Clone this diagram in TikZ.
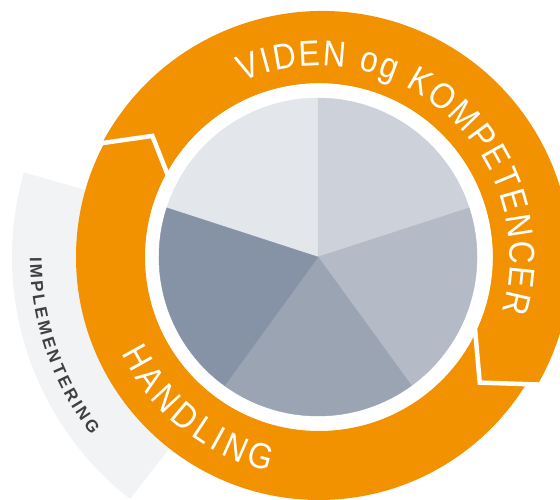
\documentclass[tikz,border=0pt]{standalone}
\usepackage{fontspec}
\setmainfont{Liberation Sans}
\newfontfamily\ringfam[FakeStretch=0.88]{Liberation Sans}
\usetikzlibrary{calc,decorations.text}
\definecolor{ringorange}{HTML}{F39200}
\definecolor{bandgrey}{HTML}{F2F3F5}
\definecolor{pieA}{HTML}{E3E6EB}
\definecolor{pieB}{HTML}{CDD2DA}
\definecolor{pieC}{HTML}{B4BAC6}
\definecolor{pieD}{HTML}{9AA4B3}
\definecolor{pieE}{HTML}{8693A6}
\definecolor{impltext}{HTML}{404040}
\newcommand\ringtxt{\ringfam\fontsize{36}{36}\selectfont}
\newcommand\impltxt{\bfseries\fontsize{17}{17}\selectfont}
\begin{document}
\begin{tikzpicture}[x=1pt,y=1pt,
  sep/.style={draw=white,line width=4.5pt},
  slice/.style={fill=#1,draw=#1,line width=0.4pt}]
\useasboundingbox (0,0) rectangle (560,499);
\clip (0,0) rectangle (560,499);
\fill[white] (0,0) rectangle (560,499);
\coordinate (C) at (319,242);
\coordinate (Cv) at (322,239);
\coordinate (P) at (318,242);
% grey band
\fill[bandgrey] ($(C)+(164:240pt)$) arc[start angle=164,end angle=232,radius=240pt]
  -- ($(C)+(232:307pt)$) arc[start angle=232,end angle=164,radius=307pt] -- cycle;
\path[decorate,decoration={text along path,text={|\impltxt|IMPLEMENTERING},
  text color=impltext,text align={fit to path}}]
  ($(C)+(180:289pt)$) arc[start angle=180,end angle=218,radius=289pt];
% orange ring
\fill[ringorange,even odd rule] (C) circle[radius=243pt] (C) circle[radius=174pt];
\coordinate (ULin) at ($(C)+(151:174pt)$);
\coordinate (ULtip) at ($(C)+(144:206pt)$);
\coordinate (ULout) at ($(Cv)+(152:249pt)$);
\coordinate (LRin) at ($(C)+(-26:174pt)$);
\coordinate (LRtip) at ($(C)+(-38:204pt)$);
\coordinate (LRout) at ($(Cv)+(-30:249pt)$);
\fill[ringorange] (ULout) arc[start angle=152,end angle=-30,radius=249pt]
  -- (LRtip) -- (LRin) arc[start angle=-26,end angle=151,radius=174pt]
  -- (ULtip) -- cycle;
\draw[sep] ($(ULtip)!1.2!(ULin)$) -- (ULtip) -- ($(ULtip)!1.3!(ULout)$);
\draw[sep] ($(LRtip)!1.2!(LRin)$) -- (LRtip) -- ($(LRtip)!1.3!(LRout)$);
% ring texts
\path[decorate,decoration={text along path,text={|\ringtxt|VIDEN og KOMPETENCER},
  text color=white,text align={fit to path}}]
  ($(C)+(113.5:191pt)$) arc[start angle=113.5,end angle=-16.5,radius=191pt];
\path[decorate,decoration={text along path,text={|\ringtxt|HANDLING},
  text color=white,text align={fit to path}}]
  ($(C)+(206:220pt)$) arc[start angle=206,end angle=257,radius=220pt];
% pie
\path[slice=pieA] (P) -- ($(P)+(90:159pt)$) arc[start angle=90,end angle=162,radius=159pt] -- cycle;
\path[slice=pieB] (P) -- ($(P)+(18:159pt)$) arc[start angle=18,end angle=90,radius=159pt] -- cycle;
\path[slice=pieC] (P) -- ($(P)+(-54:159pt)$) arc[start angle=-54,end angle=18,radius=159pt] -- cycle;
\path[slice=pieD] (P) -- ($(P)+(-126:159pt)$) arc[start angle=-126,end angle=-54,radius=159pt] -- cycle;
\path[slice=pieE] (P) -- ($(P)+(162:159pt)$) arc[start angle=162,end angle=234,radius=159pt] -- cycle;
\end{tikzpicture}
\end{document}
